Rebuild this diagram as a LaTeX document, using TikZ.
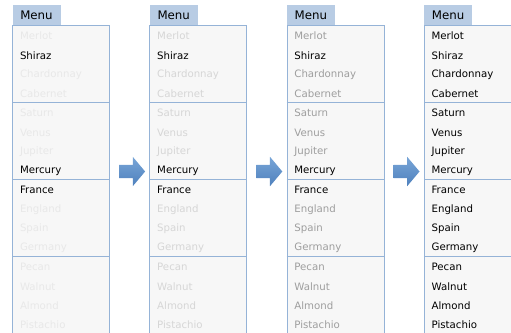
\documentclass[tikz,border=0pt]{standalone}
\usepackage{fontspec}
\setmainfont{DejaVu Sans}
\usetikzlibrary{shapes.arrows}
\definecolor{menublue}{RGB}{149,179,215}
\definecolor{tabblue}{RGB}{184,204,228}
\definecolor{panelgray}{RGB}{247,247,247}
\definecolor{arrowblue}{RGB}{79,129,189}
\definecolor{arrowlight}{RGB}{120,165,215}

\begin{document}
\begin{tikzpicture}[x=1pt,y=-1pt]
	\useasboundingbox (0,0) rectangle (511,332);
	\clip (0,0) rectangle (511,332);
	\tikzstyle{Tab}=[anchor=south west,fill=tabblue,inner sep=0pt,minimum width=48pt,minimum height=19.5pt,font=\fontsize{11.8}{13}\selectfont]
	\tikzstyle{Item}=[anchor=west,inner sep=0pt,font=\fontsize{10.2}{12}\selectfont]
	\tikzstyle{Step}=[single arrow,draw=none,top color=arrowlight,bottom color=arrowblue,inner xsep=0pt,inner ysep=6.5pt,minimum height=26pt,single arrow head extend=8pt,single arrow tip angle=100]
	% four menus, the faded items get darker from left to right
	\foreach \p/\fade in {0/9,1/16,2/38,3/100}{
		\pgfmathsetmacro\x{12.3+137.2*\p}
		\draw[menublue,fill=panelgray] (\x,25) rectangle ++(97,320);
		\node[Tab] (tab\p) at (\x,25) {Menu};
		\foreach \s in {102.5,179.5,256.5}
			\draw[menublue] (\x,\s) -- ++(97,0);
		\foreach \name [count=\i] in {Merlot,Shiraz,Chardonnay,Cabernet,Saturn,Venus,Jupiter,Mercury,France,England,Spain,Germany,Pecan,Walnut,Almond,Pistachio}{
			\pgfmathtruncatemacro\shade{(\i==2||\i==8||\i==9)?100:\fade}
			\node[Item,text=black!\shade] (item\p-\i) at (\x+7.5,{26.5+19.25*(\i-0.5)}) {\name};
		}
	}
	% arrows between the menus
	\foreach \p in {0,1,2}{
		\pgfmathsetmacro\x{12.3+137.2*\p+97+20}
		\node[Step] (arrow\p) at (\x,171.5) {};
	}
\end{tikzpicture}
\end{document}
